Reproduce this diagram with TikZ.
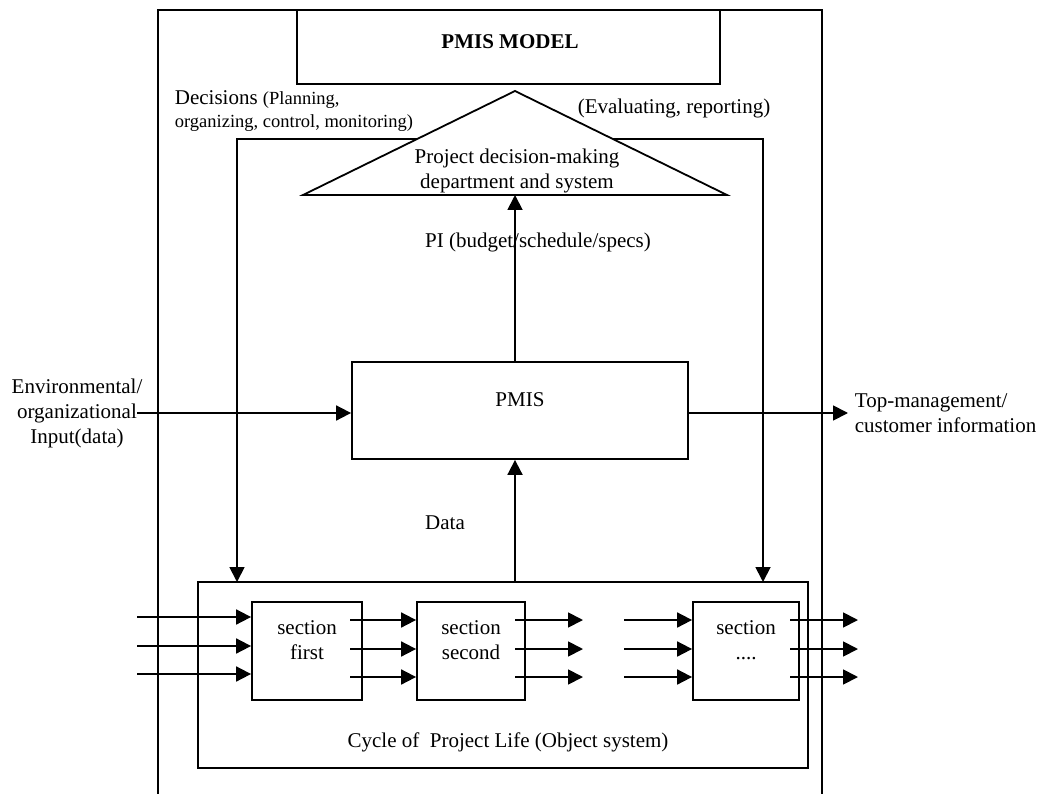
\documentclass[tikz,border=0pt]{standalone}
\usepackage{fontspec}
\setmainfont{Liberation Serif}
\usetikzlibrary{arrows.meta,calc}

\begin{document}
\begin{tikzpicture}[x=1pt,y=-1pt,
  line width=1.8pt,
  every node/.style={font=\fontsize{21}{25}\selectfont, inner sep=0pt},
  box/.style={draw, rectangle, inner sep=0pt},
  arr/.style={-{Triangle[length=15pt,width=15pt]}},
  small/.style={font=\fontsize{18.5}{22}\selectfont}
]
\useasboundingbox (0,0) rectangle (1040,794);

% outer frame (open at the bottom)
\coordinate (fbl) at (158,794);
\coordinate (ftl) at (158,10);
\coordinate (ftr) at (822,10);
\coordinate (fbr) at (822,794);
\draw (fbl) -- (ftl) -- (ftr) -- (fbr);

% model title box
\node[box, minimum width=423pt, minimum height=74pt] (model) at (508.5,47) {};
\node (modeltxt) at (510,42) {\bfseries PMIS MODEL};

% decision-making triangle
\coordinate (apex) at (515,91);
\coordinate (tl) at (303,195);
\coordinate (tr) at (727,195);
\draw (tl) -- (apex) -- (tr) -- cycle;
\node[align=center] (dept) at (517,171) {Project decision-making\\department and system};

% labels of the feedback loops
\node[anchor=west] (dec1) at (174,100) {Decisions {\fontsize{18.5}{22}\selectfont(Planning,}};
\node[anchor=west, small] (dec2) at (174,123) {organizing, control, monitoring)};
\node (evalr) at (674,108) {(Evaluating, reporting)};

% PMIS box
\node[box, minimum width=336pt, minimum height=97pt] (pmis) at (520,410.5) {};
\node (pmistxt) at (520,400) {PMIS};

% project life cycle
\node[box, minimum width=610pt, minimum height=186pt] (cyc) at (503,675) {};
\node (cyctxt) at (508,742) {Cycle of~ Project Life (Object system)};

\node[box, minimum width=110pt, minimum height=98pt] (s1) at (307,651) {};
\node[box, minimum width=108pt, minimum height=98pt] (s2) at (471,651) {};
\node[box, minimum width=106pt, minimum height=98pt] (s3) at (746,651) {};
\node[align=center] (s1t) at (307,640) {section\\first};
\node[align=center] (s2t) at (471,640) {section\\second};
\node[align=center] (s3t) at (746,640) {section\\....};

% decisions down to the life cycle
\coordinate (dl) at (417,139);
\coordinate (dr) at (613,139);
\coordinate (decIn) at (237,582);
\coordinate (evIn) at (763,582);
\draw[arr] (dl) -| (decIn);
\draw[arr] (dr) -| (evIn);

% PI up to the decision-making system
\draw[arr] (pmis.north -| apex) -- (apex |- tl);
\node (pilbl) at (538,242) {PI (budget/schedule/specs)};

% data up to the PMIS
\coordinate (dataSrc) at (515,582);
\draw[arr] (dataSrc) -- (dataSrc |- pmis.south);
\node (datalbl) at (445,523) {Data};

% environmental input and management output
\node[align=center] (envlbl) at (77,413) {Environmental/\\organizational\\Input(data)};
\coordinate (envSrc) at (137,413);
\draw[arr] (envSrc) -- (envSrc -| pmis.west);
\coordinate (outEnd) at (848,413);
\draw[arr] (outEnd -| pmis.east) -- (outEnd);
\node[anchor=west, align=left] (toplbl) at (854,413) {Top-management/\\customer information};

% flows through the sections
\foreach \y/\z [count=\i] in {617/620, 646/649, 674/677} {
  \coordinate (in\i) at (137,\y);
  \draw[arr] (in\i) -- (in\i -| s1.west);
  \coordinate (a\i) at (350,\z);
  \draw[arr] (a\i) -- (a\i -| s2.west);
  \coordinate (b\i) at (515,\z);
  \coordinate (bEnd\i) at (583,\z);
  \draw[arr] (b\i) -- (bEnd\i);
  \coordinate (c\i) at (624,\z);
  \draw[arr] (c\i) -- (c\i -| s3.west);
  \coordinate (d\i) at (790,\z);
  \coordinate (dEnd\i) at (858,\z);
  \draw[arr] (d\i) -- (dEnd\i);
}
\end{tikzpicture}
\end{document}
